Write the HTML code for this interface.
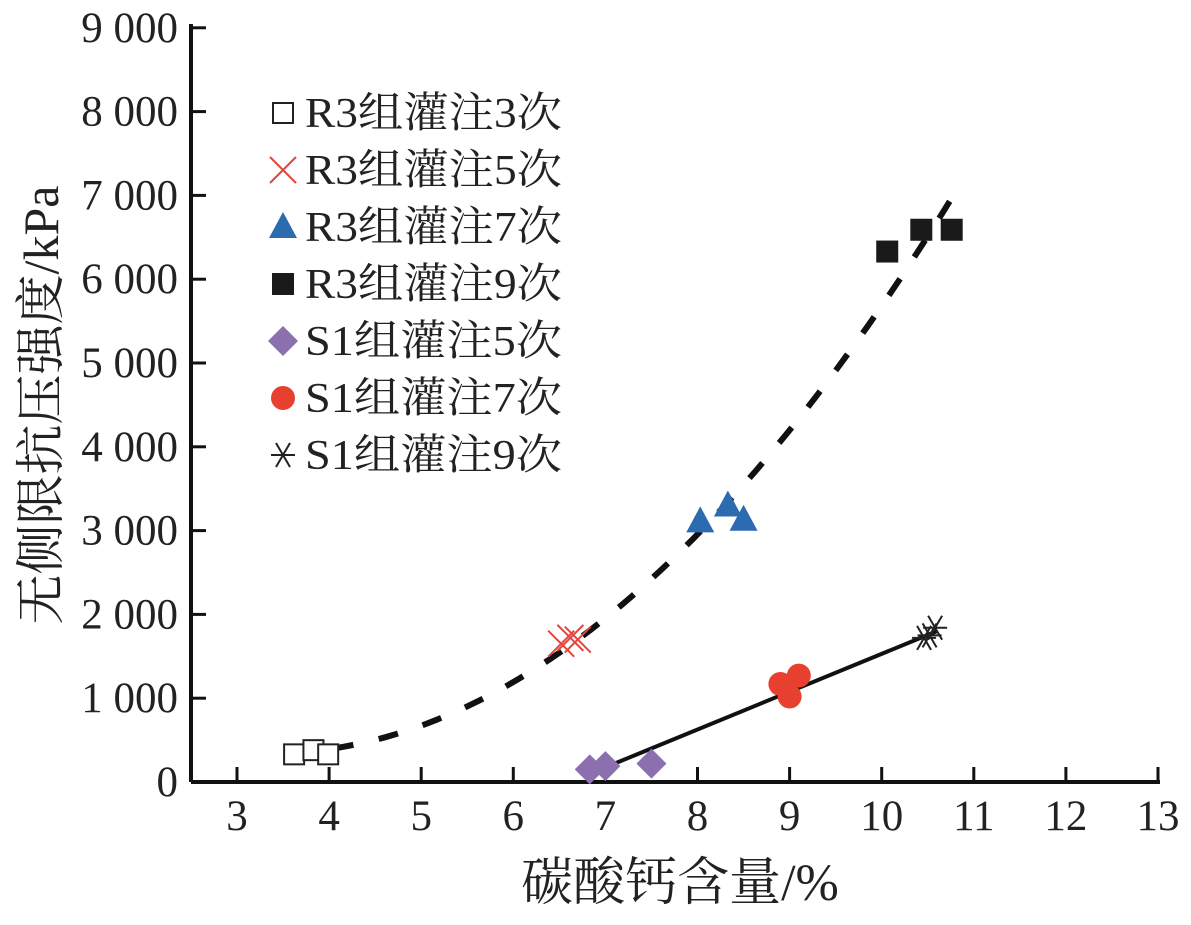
<!DOCTYPE html>
<html><head><meta charset="utf-8"><style>
body{margin:0;background:#fff;}
svg text{font-family:"Liberation Serif","Noto Serif CJK SC",serif;fill:#222;}
</style></head><body>
<svg width="1191" height="920" viewBox="0 0 1191 920">
<g id="axes"></g><g id="marks"></g><g id="legend"></g>
<text transform="translate(58,405) rotate(-90)" text-anchor="middle" font-size="50">无侧限抗压强度/kPa</text>
<text x="680" y="900" text-anchor="middle" font-size="52">碳酸钙含量/%</text>
</svg>
<script>
const xTicks=[3,4,5,6,7,8,9,10,11,12,13];
const yTicks=[0,1000,2000,3000,4000,5000,6000,7000,8000,9000];
const yTickLabels=["0","1 000","2 000","3 000","4 000","5 000","6 000","7 000","8 000","9 000"];
const r3g3x=[3.62,3.83,3.99], r3g3y=[330,380,330];
const r3g5x=[6.52,6.62,6.7], r3g5y=[1650,1720,1700];
const r3g7x=[8.03,8.33,8.5], r3g7y=[3110,3300,3130];
const r3g9x=[10.06,10.43,10.76], r3g9y=[6330,6590,6590];
const s1g5x=[6.83,7.0,7.5], s1g5y=[150,190,220];
const s1g7x=[8.9,9.0,9.1], s1g7y=[1170,1020,1270];
const s1g9x=[10.46,10.52,10.58], s1g9y=[1720,1750,1840];
const fitR3=[1678,-802.7,120.3], fitR3Range=[4.05,10.75];
const fitS1x=[6.9,10.6], fitS1y=[130,1800];
const legendLabels=["R3组灌注3次","R3组灌注5次","R3组灌注7次","R3组灌注9次","S1组灌注5次","S1组灌注7次","S1组灌注9次"];

const NS="http://www.w3.org/2000/svg";
const X=v=>237+(v-3)*92.1, Y=v=>782-v*0.0838;
function mk(tag,attrs,parent){const e=document.createElementNS(NS,tag);for(const k in attrs)e.setAttribute(k,attrs[k]);parent.appendChild(e);return e;}
const ax=document.getElementById('axes'),mg=document.getElementById('marks'),lg=document.getElementById('legend');
let e=mk('line',{x1:191,y1:782,x2:1160,y2:782,stroke:'#111','stroke-width':4},ax);


e=mk('line',{x1:191,y1:782,x2:191,y2:24,stroke:'#111','stroke-width':4},ax);


xTicks.forEach(t=>{
 mk('line',{x1:X(t),y1:782,x2:X(t),y2:767,stroke:'#111','stroke-width':3},ax);
 const tx=mk('text',{x:X(t),y:830,'text-anchor':'middle','font-size':43},ax);tx.textContent=t;
 
 
});
yTicks.forEach((t,i)=>{
 mk('line',{x1:191,y1:Y(t),x2:206,y2:Y(t),stroke:'#111','stroke-width':3},ax);
 const tx=mk('text',{x:178,y:Y(t)+14,'text-anchor':'end','font-size':43},ax);tx.textContent=yTickLabels[i];
 
 
});
let d='';for(let i=0;i<=60;i++){const x=fitR3Range[0]+(fitR3Range[1]-fitR3Range[0])*i/60;const y=fitR3[0]+fitR3[1]*x+fitR3[2]*x*x;d+=(i?'L':'M')+X(x).toFixed(1)+','+Y(y).toFixed(1);}
e=mk('path',{d:d,fill:'none',stroke:'#111','stroke-width':6,'stroke-dasharray':'20 26'},mg);


e=mk('line',{x1:X(fitS1x[0]),y1:Y(fitS1y[0]),x2:X(fitS1x[1]),y2:Y(fitS1y[1]),stroke:'#111','stroke-width':4},mg);


function marker(type,cx,cy,p){
 if(type==='osq')return mk('rect',{x:cx-10,y:cy-10,width:20,height:20,fill:'#fff',stroke:'#222','stroke-width':2},p);
 if(type==='x'){const g=mk('g',{stroke:'#e8453c','stroke-width':2},p);mk('line',{x1:cx-13,y1:cy-13,x2:cx+13,y2:cy+13},g);mk('line',{x1:cx-13,y1:cy+13,x2:cx+13,y2:cy-13},g);return g;}
 if(type==='tri')return mk('polygon',{points:`${cx},${cy-15} ${cx+14},${cy+11} ${cx-14},${cy+11}`,fill:'#2d6bb0'},p);
 if(type==='sq')return mk('rect',{x:cx-11,y:cy-11,width:22,height:22,fill:'#1a1a1a'},p);
 if(type==='dia')return mk('polygon',{points:`${cx},${cy-15} ${cx+15},${cy} ${cx},${cy+15} ${cx-15},${cy}`,fill:'#8c6fae'},p);
 if(type==='circ')return mk('circle',{cx:cx,cy:cy,r:12,fill:'#e8402e'},p);
 if(type==='star'){const g=mk('g',{stroke:'#222','stroke-width':2},p);mk('line',{x1:cx-12,y1:cy,x2:cx+12,y2:cy},g);mk('line',{x1:cx-7,y1:cy-12,x2:cx+7,y2:cy+12},g);mk('line',{x1:cx-7,y1:cy+12,x2:cx+7,y2:cy-12},g);return g;}
}
const series=[['osq',r3g3x,r3g3y,'r3-3'],['x',r3g5x,r3g5y,'r3-5'],['tri',r3g7x,r3g7y,'r3-7'],['sq',r3g9x,r3g9y,'r3-9'],['dia',s1g5x,s1g5y,'s1-5'],['circ',s1g7x,s1g7y,'s1-7'],['star',s1g9x,s1g9y,'s1-9']];
series.forEach(([t,xs,ys,n])=>{xs.forEach((x,i)=>{const m=marker(t,X(x),Y(ys[i]),mg);
 
 });});
series.forEach(([t],i)=>{const y=113+i*57;marker(t,283,y,lg);
 const tx=mk('text',{x:305,y:y+14,'font-size':42,textLength:257,lengthAdjust:'spacingAndGlyphs'},lg);tx.textContent=legendLabels[i];
 
 });
</script>
</body></html>
